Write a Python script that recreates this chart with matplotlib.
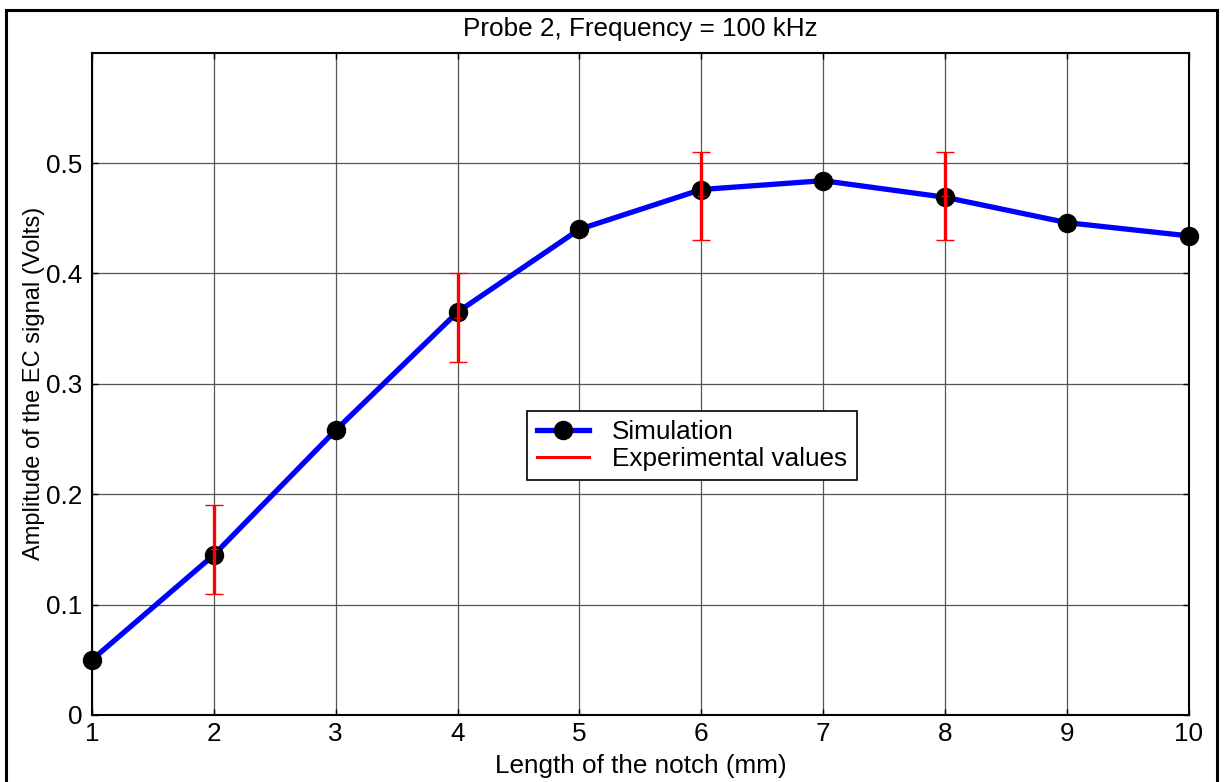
import matplotlib.pyplot as plt
from matplotlib.patches import Rectangle

# notch length (mm) and simulated EC amplitude (V)
length_mm = [1, 2, 3, 4, 5, 6, 7, 8, 9, 10]
amp_sim = [0.050, 0.145, 0.258, 0.365, 0.440, 0.476, 0.484, 0.469, 0.446, 0.434]

# measured amplitudes with their spread
length_exp = [2, 4, 6, 8]
amp_exp = [0.150, 0.360, 0.470, 0.470]
err_exp = [0.040, 0.040, 0.040, 0.040]

yticks = [0, 0.1, 0.2, 0.3, 0.4, 0.5]
ytick_labels = ["0", "0.1", "0.2", "0.3", "0.4", "0.5"]

plt.rcParams['font.family'] = ['Liberation Sans', 'DejaVu Sans']
fs = 18.8

fig = plt.figure(figsize=(12.25, 7.82), dpi=100)
ax = fig.add_axes([0.0751, 0.0857, 0.8953, 0.847])

ax.plot(length_mm, amp_sim, color='blue', lw=3.8, marker='o', ms=13,
        mfc='black', mec='black', label='Simulation', zorder=3, clip_on=False)
eb = ax.errorbar(length_exp, amp_exp, yerr=err_exp, fmt='+', color='red',
                 ms=6, mew=1.0, ecolor='red', elinewidth=2.4, capsize=6.5,
                 capthick=2.6, zorder=4)
ax.plot([], [], color='red', lw=2.2, label='Experimental values')

ax.set_xlim(1, 10)
ax.set_ylim(0, 0.6)
ax.set_xticks(length_mm)
ax.set_yticks(yticks)
ax.set_yticklabels(ytick_labels)
ax.grid(True, color='#555555', lw=0.9)
ax.set_axisbelow(True)
ax.tick_params(direction='in', length=4, width=1, labelsize=fs,
               top=True, right=True)
ax.tick_params(axis='x', pad=5)
ax.tick_params(axis='y', pad=7)
for sp in ax.spines.values():
    sp.set_linewidth(1.5)

ax.set_title('Probe 2, Frequency = 100 kHz', fontsize=fs, pad=12)
ax.set_xlabel('Length of the notch (mm)', fontsize=fs, labelpad=6)
ax.set_ylabel('Amplitude of the EC signal (Volts)', fontsize=17, labelpad=1)

leg = ax.legend(loc='lower left', bbox_to_anchor=(0.397, 0.355),
                borderaxespad=0, fontsize=fs, fancybox=False,
                edgecolor='black', framealpha=1, handlelength=2.0,
                borderpad=0.35, labelspacing=0.1, handletextpad=0.9)
leg.get_frame().set_linewidth(1.2)

# outer frame round the figure
fig.patches.append(Rectangle((0.0049, -0.02), 0.9886, 1.007,
                             transform=fig.transFigure, fill=False,
                             edgecolor='black', lw=2.2))

fig.savefig('out.png', dpi=100)
